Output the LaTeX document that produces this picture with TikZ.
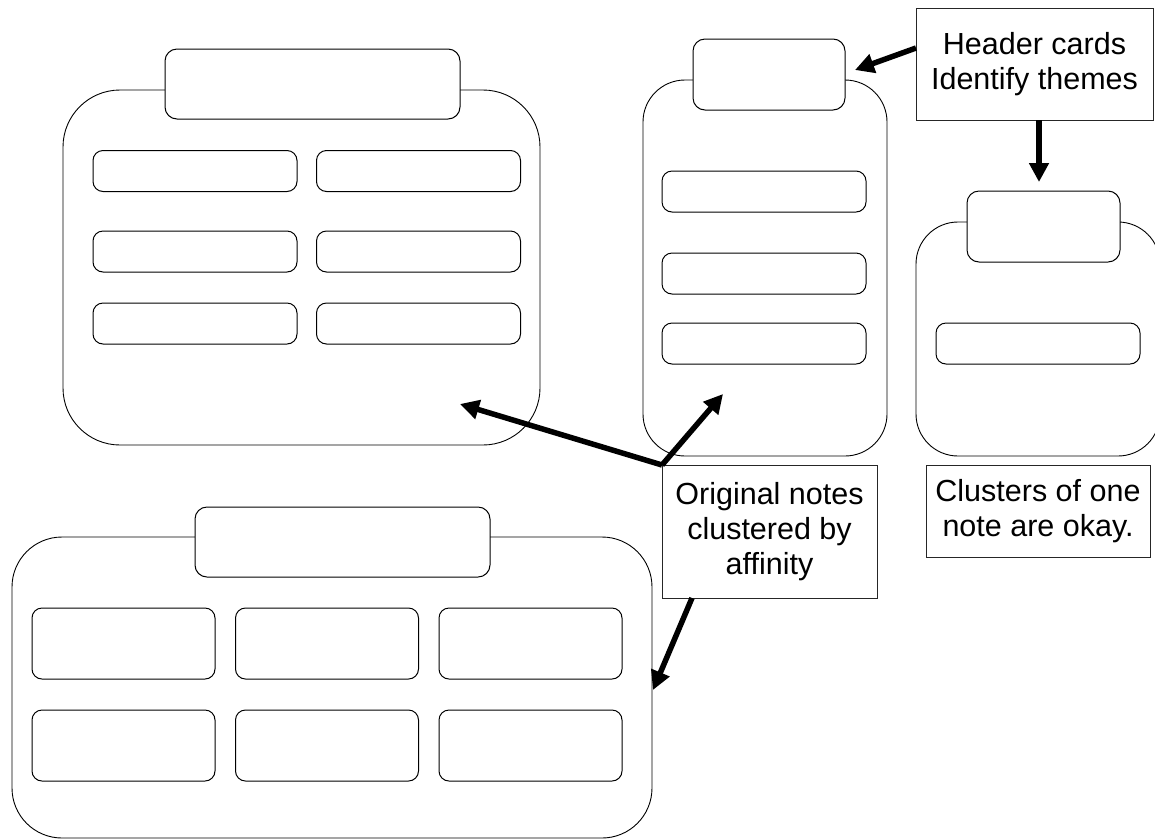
\documentclass[tikz,border=0pt]{standalone}
\usepackage{fontspec}
\setmainfont{Liberation Sans}
\usetikzlibrary{arrows.meta}
\begin{document}
\begin{tikzpicture}[x=1pt,y=-1pt,
  cluster/.style={draw=black,line width=0.9pt,rounded corners=#1,inner sep=0pt,outer sep=0pt,fill=none},
  header/.style={draw=black,line width=1pt,rounded corners=12pt,fill=white,inner sep=0pt,outer sep=0pt},
  note/.style={draw=black,line width=1pt,rounded corners=10pt,fill=white,inner sep=0pt,outer sep=0pt},
  label/.style={draw=black!85,line width=1pt,fill=white,inner sep=0pt,outer sep=0pt,align=center,font=\fontsize{30.5}{35}\selectfont},
  bigarrow/.style={line width=5.5pt,-{Triangle[length=19pt,width=19pt]}}
]
\clip (0,0) rectangle (1155,839);
\fill[white] (0,0) rectangle (1155,839);

% Cluster 1
\node[cluster=57pt,minimum width=477pt,minimum height=355pt] (c1) at (301.5,267.5) {};
\node[header,minimum width=295pt,minimum height=70pt] (h1) at (312.5,84) {};
\foreach \r/\y in {1/171,2/251.5,3/323.5}{
  \node[note,minimum width=204pt,minimum height=41pt] (n1a\r) at (195,\y) {};
  \node[note,minimum width=204pt,minimum height=41pt] (n1b\r) at (418.5,\y) {};
}

% Cluster 2
\node[cluster=42pt,minimum width=244pt,minimum height=376pt] (c2) at (765,268) {};
\node[header,minimum width=152pt,minimum height=71pt] (h2) at (769,74.5) {};
\foreach \r/\y in {1/191.5,2/273.5,3/343.5}{
  \node[note,minimum width=204pt,minimum height=41pt] (n2\r) at (764,\y) {};
}

% Cluster 3
\node[cluster=42pt,minimum width=244pt,minimum height=234pt] (c3) at (1038,339) {};
\node[header,minimum width=153pt,minimum height=71pt] (h3) at (1043.5,226.5) {};
\node[note,minimum width=204pt,minimum height=41pt] (n31) at (1038,343.5) {};

% Cluster 4
\node[cluster=50pt,minimum width=640pt,minimum height=301pt] (c4) at (332,687.5) {};
\node[header,minimum width=295pt,minimum height=70pt] (h4) at (342.5,542) {};
\foreach \r/\y in {1/643.5,2/745.5}{
  \node[note,minimum width=183pt,minimum height=71pt] (n4a\r) at (123.5,\y) {};
  \node[note,minimum width=183pt,minimum height=71pt] (n4b\r) at (327,\y) {};
  \node[note,minimum width=183pt,minimum height=71pt] (n4c\r) at (530.5,\y) {};
}

% Labels
\node[label,minimum width=237pt,minimum height=112pt] (hc) at (1034.5,64) {Header cards\\Identify themes};
\node[label,minimum width=215pt,minimum height=133pt] (on) at (769.5,531.5) {Original notes\\clustered by\\affinity};
\node[label,minimum width=224pt,minimum height=92pt] (co) at (1038,511) {Clusters of one\\note are okay.};

% Arrow targets
\coordinate (t1) at (855,70);
\coordinate (t2) at (1039,182);
\coordinate (t3) at (460,404);
\coordinate (t4) at (723,394);
\coordinate (t5) at (653,690);

% Arrows
\draw[bigarrow] ([yshift=-40pt]hc.north west) -- (t1);
\draw[bigarrow] ([xshift=4.5pt]hc.south) -- (t2);
\draw[bigarrow] (on.north west) -- (t3);
\draw[bigarrow] (on.north west) -- (t4);
\draw[bigarrow] ([xshift=30pt]on.south west) -- (t5);
\end{tikzpicture}
\end{document}
